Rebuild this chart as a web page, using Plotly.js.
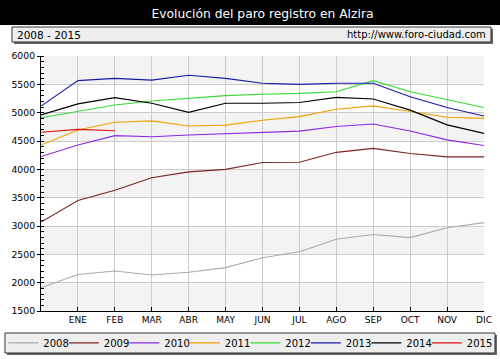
<!DOCTYPE html>
<html><head><meta charset="utf-8">
<script src="https://cdn.plot.ly/plotly-3.0.1.min.js"></script>
<style>body{margin:0;background:#fff}#c{width:500px;height:359px}</style>
</head><body><div id="c"></div>
<script>
const months = ["ENE","FEB","MAR","ABR","MAY","JUN","JUL","AGO","SEP","OCT","NOV","DIC"];
const years = ["2008","2009","2010","2011","2012","2013","2014","2015"];
const colors = ["#aaaaaa","#7b2323","#8a2be2","#f0a000","#33dd33","#1a1aaa","#000000","#dd1111"];
const v2008 = [1910,2145,2205,2135,2185,2265,2440,2545,2765,2850,2795,2970,3060];
const v2009 = [3070,3450,3630,3850,3955,4000,4120,4125,4300,4370,4280,4220,4220];
const v2010 = [4225,4430,4595,4575,4605,4625,4655,4675,4755,4800,4675,4520,4420];
const v2011 = [4430,4695,4830,4855,4765,4780,4865,4930,5060,5120,5020,4920,4900];
const v2012 = [4910,5020,5135,5205,5255,5300,5325,5340,5370,5565,5370,5235,5090];
const v2013 = [5115,5565,5605,5575,5660,5605,5520,5500,5520,5520,5280,5090,4940];
const v2014 = [4960,5155,5265,5165,5005,5165,5165,5180,5270,5240,5045,4785,4635];
const v2015 = [4655,4705,4680];
const series = [v2008,v2009,v2010,v2011,v2012,v2013,v2014,v2015];
const yTicks = [1500,2000,2500,3000,3500,4000,4500,5000,5500,6000];
const monthPos = months.map((m,i)=>i+1);

const traces = series.map((vals,i)=>({
  type:'scatter', mode:'lines', name:years[i],
  x: vals.map((v,j)=>j), y: vals,
  line:{color:colors[i], width:1.1}
}));

const shapes = [];
for (let i=0;i<yTicks.length-1;i++){
  if ((yTicks.length-2-i)%2===0){
    shapes.push({type:'rect',xref:'paper',yref:'y',x0:0,x1:1,y0:yTicks[i],y1:yTicks[i+1],
      fillcolor:'#f3f3f3',line:{width:0},layer:'below'});
  }
}
// title band
shapes.push({type:'rect',xref:'paper',yref:'paper',x0:-0.1,x1:1.05,y0:1.1216,y1:1.25,fillcolor:'#000',line:{width:0}});
// header box shadow + box
shapes.push({type:'rect',xref:'paper',yref:'paper',x0:-0.061,x1:1.0203,y0:1.047,y1:1.106,fillcolor:'#666',line:{width:0}});
shapes.push({type:'rect',xref:'paper',yref:'paper',x0:-0.0655,x1:1.0158,y0:1.055,y1:1.1137,fillcolor:'#eeeeee',line:{color:'#333',width:1}});
// legend box shadow + box
shapes.push({type:'rect',xref:'paper',yref:'paper',x0:-0.0768,x1:1.0293,y0:-0.1725,y1:-0.094,fillcolor:'#666',line:{width:0}});
shapes.push({type:'rect',xref:'paper',yref:'paper',x0:-0.0813,x1:1.0248,y0:-0.1647,y1:-0.0863,fillcolor:'#eeeeee',line:{color:'#333',width:1}});

const layout = {
  width:500, height:359,
  margin:{l:41,r:16,t:56,b:48,autoexpand:false},
  paper_bgcolor:'#fff', plot_bgcolor:'#fff',
  font:{family:'DejaVu Sans, sans-serif', size:9, color:'#000'},
  title:{text:'Evolución del paro registro en Alzira', font:{color:'#fff',size:12.3,family:'DejaVu Sans, sans-serif'},
    x:0.5, xanchor:'center', y:0.962, yanchor:'middle', xref:'paper'},
  showlegend:true,
  legend:{orientation:'h', x:-0.085, xanchor:'left', y:-0.125, yanchor:'middle',
    bgcolor:'rgba(0,0,0,0)', borderwidth:0,
    font:{size:10, family:'DejaVu Sans, sans-serif'}, entrywidthmode:'fraction', entrywidth:0.125, itemwidth:30},
  xaxis:{range:[0,12], tickvals:monthPos, ticktext:months, showgrid:true, gridcolor:'#cccccc',
    showline:true, linecolor:'#000', linewidth:1, ticks:'inside', ticklen:4, tickcolor:'#000',
    zeroline:false, fixedrange:true, tickfont:{size:9}},
  yaxis:{range:[1500,6000], tickvals:yTicks, showgrid:true, gridcolor:'#cccccc',
    showline:true, linecolor:'#000', linewidth:1, ticks:'outside', ticklen:3, tickcolor:'#000',
    minor:{dtick:100, ticks:'inside', ticklen:3, tickcolor:'#000', showgrid:false},
    zeroline:false, fixedrange:true, tickfont:{size:9.3}},
  shapes:shapes,
  annotations:[
    {xref:'paper',yref:'paper',x:-0.058,y:1.084,xanchor:'left',yanchor:'middle',text:'2008 - 2015',showarrow:false,
     font:{family:'DejaVu Sans, sans-serif',size:10.5}},
    {xref:'paper',yref:'paper',x:1.008,y:1.084,xanchor:'right',yanchor:'middle',text:'http://www.foro-ciudad.com',showarrow:false,
     font:{family:'DejaVu Sans, sans-serif',size:10}}
  ]
};
Plotly.newPlot('c', traces, layout, {displayModeBar:false, staticPlot:true});
</script></body></html>
